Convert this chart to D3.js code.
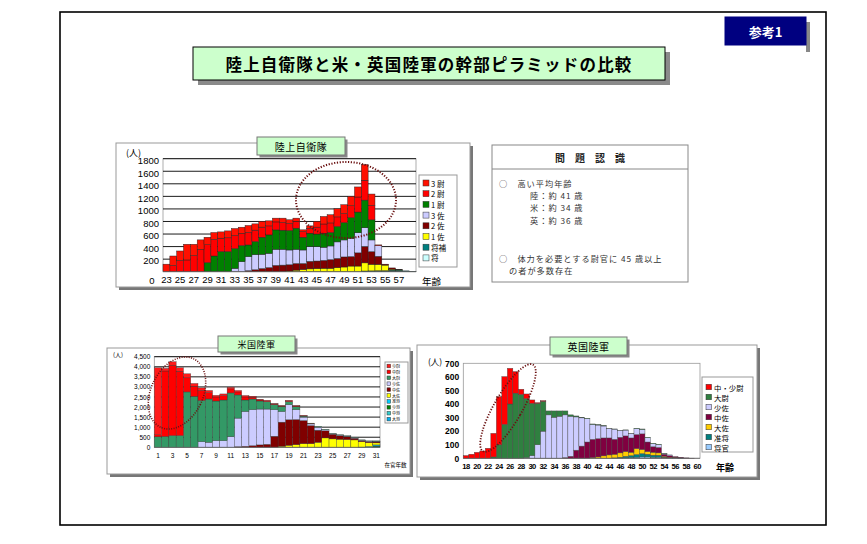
<!DOCTYPE html>
<html><head><meta charset="utf-8">
<script src="https://cdn.jsdelivr.net/npm/d3@7/dist/d3.min.js"></script>
<style>body{margin:0;background:#fff}</style>
</head><body>
<svg id="c" width="867" height="544" xmlns="http://www.w3.org/2000/svg"></svg>
<script>
// ===================== DATA =====================
// 陸上自衛隊 (age 23..59)
const jsdfAges = [23,24,25,26,27,28,29,30,31,32,33,34,35,36,37,38,39,40,41,42,43,44,45,46,47,48,49,50,51,52,53,54,55,56,57,58,59];
const jsdfTicks = [23,25,27,29,31,33,35,37,39,41,43,45,47,49,51,53,55,57];
const jsdfYTicks = [200,400,600,800,1000,1200,1400,1600,1800];
const jsdfSho   = [0,0,0,0,0,0,0,0,0,0,0,0,0,0,0,0,0,0,0,0,0,0,0,0,0,0,0,0,0,3,3,5,5,5,5,3,2];
const jsdfShoho = [0,0,0,0,0,0,0,0,0,0,0,0,0,0,0,0,0,0,0,0,0,0,0,0,0,0,0,0,0,8,10,10,10,20,20,10,3];
const jsdf1sa   = [0,0,0,0,0,0,0,0,0,0,0,0,0,0,0,0,0,0,10,25,35,45,50,55,55,65,75,90,90,130,105,100,90,15,5,0,0];
const jsdf2sa   = [0,0,0,0,0,0,0,0,0,0,0,0,15,30,50,65,100,105,100,105,95,120,120,125,135,145,160,150,210,260,200,130,15,20,5,0,0];
const jsdf3sa   = [0,0,0,0,0,0,0,0,0,0,53,160,225,242,227,228,257,252,236,227,216,235,230,210,220,265,271,293,320,299,188,171,0,0,0,0,0];
const jsdf1i    = [0,0,0,0,0,0,144,250,320,320,315,256,186,208,272,293,309,304,310,336,203,213,200,223,214,245,275,327,330,440,320,0,0,0,0,0,0];
const jsdf2i    = [0,100,180,187,257,357,285,264,214,220,210,193,200,182,161,144,127,122,111,110,88,77,110,147,153,153,146,190,240,317,231,0,0,0,0,0,0];
const jsdf3i    = [120,150,150,250,180,150,120,110,100,110,110,100,110,100,90,80,60,70,60,50,30,40,90,120,130,130,140,150,160,250,180,11,0,0,0,0,0];

// 米国陸軍 (在官年数 1..31)
const usYears = [1,2,3,4,5,6,7,8,9,10,11,12,13,14,15,16,17,18,19,20,21,22,23,24,25,26,27,28,29,30,31];
const usTicks = [1,3,5,7,9,11,13,15,17,19,21,23,25,27,29,31];
const usYTicks = [0,500,1000,1500,2000,2500,3000,3500,4000,4500];
const usTaisho  = [0,0,0,0,0,0,0,0,0,0,0,0,0,0,0,0,0,0,0,0,0,0,0,0,0,0,0,0,0,0,10];
const usChujo   = [0,0,0,0,0,0,0,0,0,0,0,0,0,0,0,0,0,0,0,0,0,0,0,0,0,0,0,0,0,0,20];
const usShosho  = [0,0,0,0,0,0,0,0,0,0,0,0,0,0,0,0,0,0,0,0,0,0,0,0,0,0,0,0,0,0,40];
const usJunsho  = [0,0,0,0,0,0,0,0,0,0,0,0,0,0,0,0,0,0,0,0,0,0,0,0,0,0,0,0,10,40,50];
const usTaisa   = [0,0,0,0,0,0,0,0,0,0,0,0,0,0,0,0,0,50,100,130,180,180,250,467,417,400,383,367,273,193,100];
const usChusa   = [0,0,0,0,0,0,0,0,0,0,0,30,50,80,120,150,550,1200,1270,1250,1150,900,600,353,233,170,137,83,50,50,50];
const usShosa   = [0,0,0,0,0,0,280,250,330,330,530,1420,1730,1790,1780,1750,1320,530,750,490,170,80,150,60,35,35,35,35,25,25,30];
const usTaii    = [520,540,580,580,2750,2530,2050,2150,1970,2020,2170,1150,570,530,400,370,250,250,150,150,50,30,30,20,15,15,15,15,10,10,20];
const usChui    = [100,3250,3500,3200,700,500,500,320,200,220,200,150,150,90,50,40,30,20,40,30,20,0,0,0,0,0,0,0,0,0,0];
const usShoi    = [3330,130,170,170,200,140,120,100,80,80,80,70,70,40,30,20,20,20,20,20,10,10,0,0,0,0,0,0,0,0,0];

// 英国陸軍 (age 18..60)
const ukAges = [18,19,20,21,22,23,24,25,26,27,28,29,30,31,32,33,34,35,36,37,38,39,40,41,42,43,44,45,46,47,48,49,50,51,52,53,54,55,56,57,58,59,60];
const ukTicks = [18,20,22,24,26,28,30,32,34,36,38,40,42,44,46,48,50,52,54,56,58,60];
const ukYTicks = [0,100,200,300,400,500,600,700];
const ukShokan  = [0,0,0,0,0,0,0,0,0,0,0,0,0,0,0,0,0,0,0,0,0,0,0,0,0,0,0,0,0,3,5,8,10,10,8,8,3,3,2,1,0,0,0];
const ukJunsho  = [0,0,0,0,0,0,0,0,0,0,0,0,0,0,0,0,0,0,0,0,0,0,0,0,0,0,0,3,8,12,15,20,25,20,15,15,5,2,2,1,0,0,0];
const ukTaisa   = [0,0,0,0,0,0,0,0,0,0,0,0,0,0,0,0,0,0,0,0,0,0,0,5,10,18,25,27,32,35,25,44,30,20,22,17,7,3,2,0,0,0,0];
const ukChusa   = [0,0,0,0,0,0,0,0,0,0,0,0,0,0,0,0,0,0,5,15,60,90,120,135,135,132,125,110,115,115,105,103,115,70,40,40,15,12,6,5,3,1,0];
const ukShosa   = [0,0,0,0,0,0,0,0,0,0,0,5,20,100,200,320,302,310,315,295,245,208,172,110,100,88,70,75,48,43,33,43,33,32,23,20,5,5,0,0,0,0,0];
const ukTaii    = [0,0,0,0,0,10,100,250,400,480,470,435,385,305,220,29,47,39,29,10,7,4,3,3,3,3,1,1,1,1,1,3,3,3,3,3,2,0,0,0,0,0,0];
const ukChushoi = [20,30,44,54,74,174,355,352,263,159,39,34,25,5,5,0,0,0,0,0,0,0,0,0,0,0,0,0,0,0,0,0,0,0,0,0,0,0,0,0,0,0,0];

// ===================== DRAWING =====================
const svg = d3.select("#c");
const JP = "'Noto Sans CJK JP','Noto Sans CJK SC',sans-serif";
const NUM = "'Liberation Sans','Arimo',Arial,sans-serif";

function box(x, y, w, h, fill, stroke, off, shadow, sw) {
  if (off) svg.append("rect").attr("x", x + off).attr("y", y + off).attr("width", w).attr("height", h).attr("fill", shadow);
  svg.append("rect").attr("x", x).attr("y", y).attr("width", w).attr("height", h)
    .attr("fill", fill).attr("stroke", stroke).attr("stroke-width", sw || 1);
}
function txt(x, y, s, size, opts) {
  opts = opts || {};
  return svg.append("text").attr("x", x).attr("y", y).text(s)
    .attr("font-family", opts.family || JP).attr("font-size", size)
    .attr("font-weight", opts.weight || "normal").attr("fill", opts.fill || "#000")
    .attr("text-anchor", opts.anchor || "start").attr("dominant-baseline", "central")
    .attr("letter-spacing", opts.ls || 0);
}

// Outer frame
svg.append("rect").attr("x", 60).attr("y", 12).attr("width", 766).attr("height", 513)
  .attr("fill", "none").attr("stroke", "#000").attr("stroke-width", 1.6);

// 参考1
svg.append("rect").attr("x", 806).attr("y", 22).attr("width", 4).attr("height", 30).attr("fill", "#888");
box(725, 17, 81, 28, "#000080", "#000080", 0);
txt(765.5, 31.5, "参考1", 13, {anchor: "middle", weight: "bold", fill: "#fff"});

// Main title
box(193, 47, 472, 33, "#ccffcc", "#000", 5, "#8a8a8a", 1);
txt(429, 64, "陸上自衛隊と米・英国陸軍の幹部ピラミッドの比較", 16.5, {anchor: "middle", weight: "bold", ls: 1.2});

// Problem box
box(492, 145, 196, 137, "#fff", "#888", 0);
svg.append("line").attr("x1", 492).attr("x2", 688).attr("y1", 169).attr("y2", 169).attr("stroke", "#888");
txt(590, 157.5, "問　題　認　識", 10, {anchor: "middle", weight: "bold", fill: "#222"});
const ptxt = {fill: "#333", ls: 1};
txt(499, 183, "○　高い平均年齢", 8.2, ptxt);
txt(530, 195, "陸：約 41 歳", 8.2, ptxt);
txt(530, 207, "米：約 34 歳", 8.2, ptxt);
txt(530, 219.5, "英：約 36 歳", 8.2, ptxt);
txt(499, 257.5, "○　体力を必要とする尉官に 45 歳以上", 8.2, ptxt);
txt(509, 270, "の者が多数存在", 8.2, ptxt);

function drawStack(cfg) {
  box(cfg.frame[0], cfg.frame[1], cfg.frame[2], cfg.frame[3], "#fff", "#999", 3, "#777");
  const x = d3.scaleBand().domain(cfg.cats).range([cfg.px0, cfg.px1]).padding(0);
  const y = d3.scaleLinear().domain([0, cfg.max]).range([cfg.py1, cfg.py0]);
  const g = svg.append("g");
  g.append("rect").attr("x", cfg.px0).attr("y", cfg.py0).attr("width", cfg.px1 - cfg.px0)
    .attr("height", cfg.py1 - cfg.py0).attr("fill", "#fff").attr("stroke", "#999").attr("stroke-width", 0.8);
  if (cfg.grid) {
    g.selectAll(".grid").data(cfg.yTicks.filter(v => v > 0)).enter().append("line")
      .attr("x1", cfg.px0).attr("x2", cfg.px1).attr("y1", d => y(d)).attr("y2", d => y(d))
      .attr("stroke", "#000").attr("stroke-width", 0.9);
  }
  const keys = cfg.series.map(s => s.name);
  const rows = cfg.cats.map((c, i) => {
    const o = {cat: c};
    cfg.series.forEach(s => { o[s.name] = s.values[i]; });
    return o;
  });
  const layers = d3.stack().keys(keys)(rows);
  layers.forEach((layer, li) => {
    g.append("g").selectAll("rect").data(layer.filter(d => d[1] - d[0] > 0)).enter().append("rect")
      .attr("x", d => x(d.data.cat)).attr("width", x.bandwidth())
      .attr("y", d => y(d[1])).attr("height", d => y(d[0]) - y(d[1]))
      .attr("fill", cfg.series[li].color).attr("stroke", cfg.stroke).attr("stroke-width", cfg.strokeW);
  });
  g.append("line").attr("x1", cfg.px0).attr("x2", cfg.px1).attr("y1", cfg.py1).attr("y2", cfg.py1)
    .attr("stroke", "#666").attr("stroke-width", 0.8);
  const ya = g.append("g").attr("transform", `translate(${cfg.px0},0)`)
    .call(d3.axisLeft(y).tickValues(cfg.yTicks).tickSize(0).tickPadding(cfg.yPad).tickFormat(cfg.yFmt));
  ya.select(".domain").remove();
  ya.selectAll("text").attr("font-family", NUM).attr("font-size", cfg.yFont).attr("font-weight", cfg.fw)
    .attr("fill", "#000").attr("dy", cfg.yDy);
  const xa = g.append("g").attr("transform", `translate(0,${cfg.py1})`)
    .call(d3.axisBottom(x).tickValues(cfg.xTicks).tickSize(0).tickPadding(cfg.xPad));
  xa.select(".domain").remove();
  xa.selectAll("text").attr("font-family", NUM).attr("font-size", cfg.xFont).attr("font-weight", cfg.fw)
    .attr("fill", "#000").attr("letter-spacing", cfg.xLs || 0);
  const t = cfg.title;
  box(t.x, t.y, t.w, t.h, "#ccffcc", "#777", 2.5, "#888");
  txt(t.x + t.w / 2, t.y + t.h / 2 + 0.5, t.text, t.size, {anchor: "middle", ls: 0.5});
  const L = cfg.legend;
  box(L.x, L.y, L.w, L.h, "#fff", "#999", 0);
  cfg.series.slice().reverse().forEach((s, i) => {
    const cy = L.y0 + i * L.dy;
    svg.append("rect").attr("x", L.sx).attr("y", cy - L.ss / 2).attr("width", L.ss).attr("height", L.ss)
      .attr("fill", s.color).attr("stroke", "#333").attr("stroke-width", 0.5);
    txt(L.tx, cy, s.label || s.name, L.font, {});
  });
  return {x, y};
}

// ---- 陸上自衛隊 ----
drawStack({
  frame: [116, 143, 354, 144],
  cats: jsdfAges, xTicks: jsdfTicks, yTicks: jsdfYTicks, max: 1800,
  px0: 163, px1: 416, py0: 158.7, py1: 271.7, grid: true,
  stroke: "#222", strokeW: 0.45, fw: "normal",
  yPad: 4, yFont: 9.5, yDy: "0.5em", yFmt: d => d,
  xPad: 5, xFont: 9.5,
  series: [
    {name: "将", color: "#ccffff", values: jsdfSho},
    {name: "将補", color: "#008080", values: jsdfShoho},
    {name: "1 佐", color: "#ffff00", values: jsdf1sa},
    {name: "2 佐", color: "#800000", values: jsdf2sa},
    {name: "3 佐", color: "#ccccff", values: jsdf3sa},
    {name: "1 尉", color: "#008000", values: jsdf1i},
    {name: "2 尉", color: "#ff0000", values: jsdf2i},
    {name: "3 尉", color: "#ff1000", values: jsdf3i}
  ],
  title: {x: 257, y: 137, w: 88, h: 18, text: "陸上自衛隊", size: 10},
  legend: {x: 419, y: 175, w: 38, h: 92, y0: 183, dy: 10.7, sx: 423, ss: 6, tx: 431, font: 7.6}
});
txt(152, 280.5, "0", 9.5, {family: NUM, anchor: "middle"});
txt(126, 152, "(人)", 9, {});
txt(422, 281, "年齢", 9.5, {});
svg.append("ellipse").attr("cx", 346).attr("cy", 200).attr("rx", 50).attr("ry", 38)
  .attr("fill", "none").attr("stroke", "#6a1010").attr("stroke-width", 2).attr("stroke-dasharray", "1.2 1.6");

// ---- 米国陸軍 ----
drawStack({
  frame: [107, 348, 303, 126],
  cats: usYears, xTicks: usTicks, yTicks: usYTicks, max: 4500,
  px0: 154.3, px1: 380, py0: 356.7, py1: 447.3, grid: true,
  stroke: "#333", strokeW: 0.35, fw: "normal",
  yPad: 4, yFont: 6.5, yDy: "0.32em", yFmt: d3.format(","),
  xPad: 6, xFont: 6.5,
  series: [
    {name: "大将", color: "#00b0f0", values: usTaisho},
    {name: "中将", color: "#33cccc", values: usChujo},
    {name: "少将", color: "#008000", values: usShosho},
    {name: "准将", color: "#00ccff", values: usJunsho},
    {name: "大佐", color: "#ffff00", values: usTaisa},
    {name: "中佐", color: "#800000", values: usChusa},
    {name: "少佐", color: "#ccccff", values: usShosa},
    {name: "大尉", color: "#339966", values: usTaii},
    {name: "中尉", color: "#ff0000", values: usChui},
    {name: "少尉", color: "#ff1a1a", values: usShoi}
  ],
  title: {x: 218, y: 336, w: 77, h: 16, text: "米国陸軍", size: 9},
  legend: {x: 385, y: 362, w: 23, h: 61, y0: 366, dy: 5.9, sx: 387, ss: 3.6, tx: 392, font: 4.1}
});
txt(113, 354.5, "(人)", 6, {});
txt(395.5, 465, "在官年数", 5.5, {anchor: "middle"});
svg.append("ellipse").attr("cx", 0).attr("cy", 0).attr("rx", 26).attr("ry", 38)
  .attr("transform", "translate(177,393) rotate(26)")
  .attr("fill", "none").attr("stroke", "#6a1010").attr("stroke-width", 1.6).attr("stroke-dasharray", "1 1.4");

// ---- 英国陸軍 ----
drawStack({
  frame: [417, 345, 340, 132],
  cats: ukAges, xTicks: ukTicks, yTicks: ukYTicks, max: 700,
  px0: 463.3, px1: 700, py0: 363.3, py1: 458.3, grid: false,
  stroke: "#444", strokeW: 0.4, fw: "bold",
  yPad: 4, yFont: 8.5, yDy: "0.32em", yFmt: d => d,
  xPad: 5.5, xFont: 7.6, xLs: -0.5,
  series: [
    {name: "将官", color: "#99ccff", values: ukShokan},
    {name: "准将", color: "#008080", values: ukJunsho},
    {name: "大佐", color: "#ffcc00", values: ukTaisa},
    {name: "中佐", color: "#800040", values: ukChusa},
    {name: "少佐", color: "#ccccff", values: ukShosa},
    {name: "大尉", color: "#2f8040", values: ukTaii},
    {name: "中・少尉", color: "#ff0000", values: ukChushoi}
  ],
  title: {x: 550, y: 337, w: 77, h: 18, text: "英国陸軍", size: 10},
  legend: {x: 702, y: 377, w: 51, h: 75, y0: 387, dy: 10, sx: 706, ss: 5.5, tx: 714, font: 7.4}
});
txt(428, 361, "(人)", 8.5, {});
txt(716, 467, "年齢", 9, {weight: "bold"});
svg.append("ellipse").attr("cx", 0).attr("cy", 0).attr("rx", 14).attr("ry", 50)
  .attr("transform", "translate(508,408) rotate(30)")
  .attr("fill", "none").attr("stroke", "#6a1010").attr("stroke-width", 1.8).attr("stroke-dasharray", "1.2 1.6");
</script>
</body></html>
